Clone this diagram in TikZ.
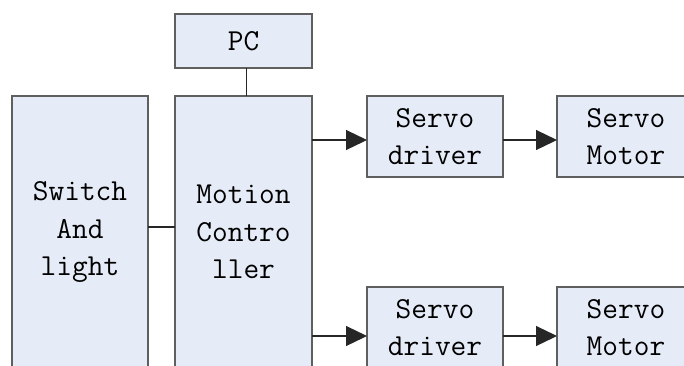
\documentclass[tikz,border=0pt]{standalone}
\usepackage{fontspec}
\usetikzlibrary{arrows.meta}
\definecolor{boxfill}{RGB}{230,236,247}
\definecolor{boxline}{RGB}{95,95,95}

\begin{document}
\begin{tikzpicture}[x=1pt,y=-1pt,
  blk/.style={rectangle,draw=boxline,fill=boxfill,line width=1.3pt,inner sep=0pt,outer sep=0pt,
    align=center,font=\ttfamily\fontsize{30.5}{37.5}\selectfont},
  ln/.style={draw=black!85,line width=1.2pt},
  ar/.style={ln,-{Triangle[length=21pt,width=20pt]}}]
  % frame
  \useasboundingbox (0,0) rectangle (684,365);
  \clip (0,0) rectangle (684,365);
  % blocks
  \node[blk,minimum width=136pt,minimum height=272pt] (sw) at (80,232) {Switch\\And\\light};
  \node[blk,minimum width=137pt,minimum height=272pt] (mc) at (243.5,232) {Motion\\Contro\\ller};
  \node[blk,minimum width=137pt,minimum height=54pt] (pc) at (243.5,41) {PC};
  \node[blk,minimum width=136pt,minimum height=81pt] (drv1) at (435,136.5) {Servo\\driver};
  \node[blk,minimum width=138pt,minimum height=81pt] (mot1) at (626,136.5) {Servo\\Motor};
  \node[blk,minimum width=136pt,minimum height=81pt] (drv2) at (435,327.5) {Servo\\driver};
  \node[blk,minimum width=138pt,minimum height=81pt] (mot2) at (626,327.5) {Servo\\Motor};
  % links
  \draw[ln] ([xshift=3pt]pc.south) -- ([xshift=3pt]pc.south |- mc.north);
  \draw[ln] ([yshift=5pt]sw.east) -- ([yshift=5pt]sw.east -| mc.west);
  \draw[ar] ([yshift=-3.5pt]drv1.west -| mc.east) -- ([yshift=-3.5pt]drv1.west);
  \draw[ar] ([yshift=-8.5pt]drv2.west -| mc.east) -- ([yshift=-8.5pt]drv2.west);
  \draw[ar] ([yshift=-3.5pt]drv1.east) -- ([yshift=-3.5pt]mot1.west);
  \draw[ar] ([yshift=-8.5pt]drv2.east) -- ([yshift=-8.5pt]mot2.west);
\end{tikzpicture}
\end{document}
